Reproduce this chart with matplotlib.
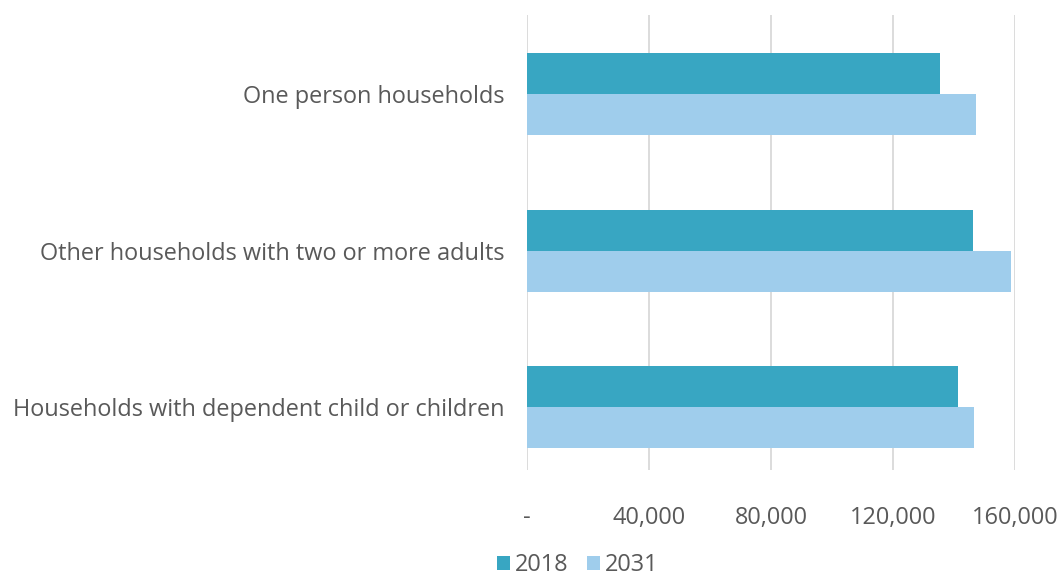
import matplotlib

matplotlib.use("Agg")
import matplotlib.pyplot as plt
import numpy as np
from matplotlib.ticker import FuncFormatter

# Households by type (count)
categories = [
    "Households with dependent child or children",
    "Other households with two or more adults",
    "One person households",
]
series_names = ["2018", "2031"]
values_2018 = [141200, 146200, 135400]
values_2031 = [146600, 158700, 147100]
x_ticks = [0, 40000, 80000, 120000, 160000]

C2018 = "#38A6C2"
C2031 = "#9FCDEC"
TEXT = "#595959"
GRID = "#D9D9D9"

plt.rcParams["font.family"] = ["Open Sans", "DejaVu Sans"]
FS = 16.9

fig = plt.figure(figsize=(10.64, 5.79), dpi=100)
ax = fig.add_axes([527 / 1064, 1 - 470 / 579, (1015 - 527) / 1064, (470 - 15) / 579])

y = np.arange(len(categories))
h = 0.262
b1 = ax.barh(y + h / 2, values_2018, height=h, color=C2018, label=series_names[0], zorder=2)
b2 = ax.barh(y - h / 2, values_2031, height=h, color=C2031, label=series_names[1], zorder=2)

ax.set_xlim(0, 160000)
ax.set_ylim(-0.40, 2.505)
ax.set_xticks(x_ticks)
ax.xaxis.set_major_formatter(FuncFormatter(lambda v, _: "-" if v == 0 else f"{v:,.0f}"))
ax.set_yticks(y)
ax.set_yticklabels(categories)
ax.grid(axis="x", color=GRID, linewidth=1.3, zorder=0)
for s in ax.spines.values():
    s.set_visible(False)
ax.tick_params(axis="x", length=0, pad=26, labelsize=FS, labelcolor=TEXT)
ax.tick_params(axis="y", length=0, pad=16, labelsize=FS, labelcolor=TEXT)

fig.legend(
    handles=[b1, b2],
    labels=series_names,
    loc="center",
    bbox_to_anchor=(578 / 1064, 1 - 565 / 579),
    ncol=2,
    frameon=False,
    fontsize=FS,
    labelcolor=TEXT,
    handlelength=0.55,
    handleheight=0.55,
    handletextpad=0.2,
    columnspacing=0.8,
    borderpad=0,
)

fig.savefig("out.png", dpi=100, facecolor="white")
plt.close(fig)
